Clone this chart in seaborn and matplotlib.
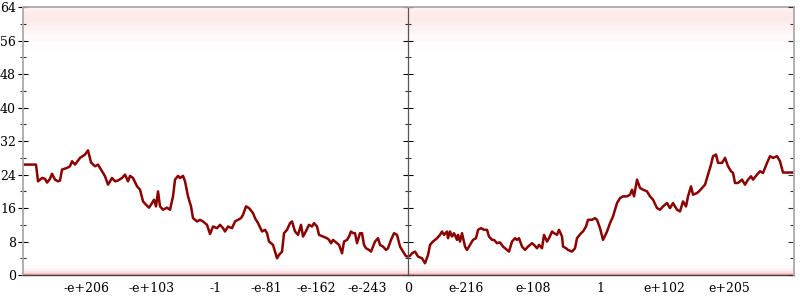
import matplotlib
matplotlib.use("Agg")
import matplotlib.pyplot as plt
import seaborn as sns
import pandas as pd

# ordinal index of the sampled input (float ordering, zero at 408.3) and bits of error
pos = [23, 36, 38, 40, 42, 45, 47, 50, 52, 55,
       58, 60, 62, 67, 70, 72, 75, 80, 85, 88,
       91, 95, 98, 102, 105, 108, 112, 115, 118, 122,
       125, 128, 130, 133, 137, 140, 143, 146, 149, 152,
       154, 156, 158, 160, 163, 167, 170, 173, 175, 178,
       180, 183, 185, 188, 191, 193, 197, 200, 203, 207,
       210, 213, 217, 220, 223, 225, 228, 232, 235, 238,
       241, 243, 246, 249, 253, 255, 258, 262, 265, 267,
       269, 273, 275, 277, 279, 282, 284, 287, 290, 292,
       295, 298, 301, 303, 306, 309, 312, 314, 317, 319,
       323, 327, 329, 331, 333, 337, 339, 342, 344, 347,
       349, 351, 353, 355, 357, 360, 362, 364, 366, 369,
       371, 375, 378, 380, 383, 386, 388, 391, 394, 397,
       400, 403, 406, 408, 410, 412, 415, 418, 422, 425,
       428, 430, 433, 437, 440, 442, 444, 447, 448, 450,
       452, 454, 457, 458, 460, 462, 465, 467, 470, 473,
       476, 478, 481, 484, 487, 489, 492, 494, 497, 500,
       503, 507, 509, 512, 515, 517, 519, 522, 525, 528,
       532, 534, 537, 539, 542, 544, 547, 549, 552, 554,
       557, 559, 562, 563, 566, 568, 572, 575, 577, 581,
       583, 586, 588, 592, 595, 597, 600, 603, 607, 610,
       613, 617, 620, 623, 627, 630, 632, 634, 637, 640,
       643, 647, 650, 653, 657, 660, 663, 667, 670, 673,
       677, 680, 683, 686, 688, 691, 693, 697, 699, 702,
       705, 708, 711, 713, 716, 718, 722, 725, 728, 731,
       733, 735, 738, 742, 745, 748, 751, 753, 757, 760,
       763, 767, 770, 773, 777, 780, 783, 794.3]
bits = [26.4, 26.4, 22.4, 22.8, 23.2, 23.0, 22.1, 23.0, 24.2, 22.8,
        22.4, 22.6, 25.2, 25.6, 26.0, 27.2, 26.4, 28.0, 28.8, 29.8,
        26.9, 26.0, 26.4, 24.8, 23.6, 21.6, 23.2, 22.4, 22.6, 23.2,
        24.0, 22.4, 23.7, 23.2, 21.2, 20.4, 17.6, 16.8, 16.1, 17.2,
        18.0, 16.4, 20.0, 16.4, 15.6, 16.1, 15.6, 18.8, 22.8, 23.7,
        23.2, 23.7, 22.4, 18.8, 16.4, 13.6, 12.8, 13.2, 12.8, 12.0,
        9.8, 11.6, 11.2, 12.0, 11.2, 10.4, 11.6, 11.2, 12.8, 13.2,
        13.6, 14.4, 16.4, 16.0, 14.8, 13.6, 12.4, 10.4, 10.8, 10.0,
        8.0, 7.2, 5.6, 4.0, 4.8, 5.6, 10.0, 10.8, 12.4, 12.8,
        10.4, 9.6, 12.0, 9.2, 10.5, 12.0, 11.6, 12.4, 11.6, 9.6,
        9.2, 8.8, 8.4, 7.6, 8.4, 7.6, 7.2, 5.2, 8.0, 8.4,
        9.2, 10.4, 10.0, 10.0, 7.6, 10.0, 10.0, 7.2, 6.4, 6.0,
        5.6, 8.0, 8.8, 7.2, 6.8, 6.0, 6.4, 8.4, 10.0, 9.6,
        6.8, 5.6, 4.5, 4.4, 4.6, 5.2, 5.6, 4.4, 4.0, 2.8,
        4.8, 7.2, 8.0, 8.8, 9.6, 10.4, 9.6, 10.4, 8.8, 10.4,
        9.2, 10.0, 8.4, 9.6, 8.0, 10.0, 6.8, 6.0, 7.2, 8.4,
        8.8, 10.8, 11.2, 10.8, 10.8, 9.2, 8.4, 8.4, 7.6, 7.8,
        6.8, 6.0, 5.6, 8.0, 8.8, 8.4, 8.8, 6.8, 6.0, 6.8,
        7.6, 7.2, 6.4, 7.2, 6.4, 9.6, 8.0, 8.8, 10.4, 10.0,
        9.6, 10.8, 9.2, 6.8, 6.4, 6.0, 5.6, 6.4, 8.8, 10.0,
        10.4, 11.6, 13.2, 13.2, 13.6, 13.2, 11.2, 8.4, 10.4, 12.4,
        14.0, 17.2, 18.4, 18.8, 18.8, 19.2, 20.4, 18.8, 22.8, 20.8,
        20.4, 20.0, 18.8, 18.0, 16.0, 15.6, 16.4, 17.2, 16.0, 17.2,
        15.6, 15.2, 17.6, 16.4, 18.8, 21.2, 19.2, 19.6, 20.0, 20.8,
        21.6, 24.0, 26.4, 28.4, 28.8, 26.8, 26.8, 28.0, 26.0, 24.8,
        24.4, 22.0, 22.0, 22.8, 21.6, 22.8, 23.6, 22.8, 24.0, 24.8,
        24.4, 26.8, 28.4, 28.0, 28.4, 27.2, 24.5, 24.5]

xlim_ord = [22.7, 794.3]
zero_ord = 408.3
xtick_pos = [86.7, 151.7, 215.7, 266.7, 316.7, 367.3, 408.3, 466.0, 533.3, 600.7, 664.3, 729.0]
xtick_labels = ["-e+206", "-e+103", "-1", "-e-81", "-e-162", "-e-243",
                "0", "e-216", "e-108", "1", "e+102", "e+205"]
ytick_major = [0, 8, 16, 24, 32, 40, 48, 56, 64]
ytick_minor = [4, 12, 20, 28, 36, 44, 52, 60]

# faint bands where the sampled points cluster (bits: low, high, opacity)
top_band_lo = [53.0, 56.0, 57.5, 58.5, 59.5, 60.5]
top_band_hi = [64.0, 64.0, 64.0, 63.8, 63.5, 62.8]
top_band_alpha = [0.008, 0.012, 0.015, 0.015, 0.015, 0.015]
bot_band_lo = [0.0, 0.0, 0.0, 0.0, 0.0]
bot_band_hi = [2.4, 1.5, 0.9, 0.45, 0.25]
bot_band_alpha = [0.02, 0.04, 0.07, 0.15, 0.2]

df = pd.DataFrame({"pos": pos, "bits": bits})

sns.set_theme(style="white")
plt.rcParams["font.family"] = ["DejaVu Serif", "DejaVu Sans"]

fig = plt.figure(figsize=(8, 3), dpi=100)
ax = fig.add_axes([0.0284, 0.0833, 0.9645, 0.8924])

for lo, hi, a in zip(top_band_lo, top_band_hi, top_band_alpha):
    ax.axhspan(lo, hi, color="#ff1a1a", alpha=a, lw=0)
for lo, hi, a in zip(bot_band_lo, bot_band_hi, bot_band_alpha):
    ax.axhspan(lo, hi, color="#ff1a1a", alpha=a, lw=0)

sns.lineplot(data=df, x="pos", y="bits", color="#8b0000", lw=1.8,
             estimator=None, ax=ax)

# outer right border (twin axes) - created before styling the main y axis
ax2 = ax.twinx()
ax2.set_ylim(0, 64)
ax2.set_yticks(ytick_major)
ax2.set_yticks(ytick_minor, minor=True)
for s in ["left", "top", "bottom"]:
    ax2.spines[s].set_visible(False)
ax2.spines["right"].set_color("#aaaaaa")
ax2.spines["right"].set_linewidth(1.3)
ax2.tick_params(axis="y", which="major", direction="in", length=4.5, width=0.8,
                colors="#333333", labelright=False)
ax2.tick_params(axis="y", which="minor", direction="in", length=3, width=0.8,
                colors="#333333")

ax.set_xlim(*xlim_ord)
ax.set_ylim(0, 64)
ax.set_xlabel("")
ax.set_ylabel("")
ax.set_xticks(xtick_pos, xtick_labels)
ax.set_yticks(ytick_major)
ax.set_yticks(ytick_minor, minor=True)

ax.yaxis.set_ticks_position("both")
ax.tick_params(axis="y", which="major", direction="inout", length=7.5, width=0.8,
               colors="black", pad=1, labelsize=9, left=True, right=True,
               labelleft=True, labelright=False)
ax.tick_params(axis="y", which="minor", direction="inout", length=3.8, width=0.8,
               colors="#333333", right=True, left=True)
ax.tick_params(axis="x", which="major", direction="inout", length=6, width=0.8,
               colors="black", pad=2, labelsize=9)

ax.spines["right"].set_position(("data", zero_ord))
ax.spines["right"].set_color("#555555")
ax.spines["right"].set_linewidth(0.9)
ax.spines["left"].set_color("#aaaaaa")
ax.spines["left"].set_linewidth(1.3)
ax.spines["top"].set_color("#aaaaaa")
ax.spines["top"].set_linewidth(1.3)
ax.spines["bottom"].set_color("#444444")
ax.spines["bottom"].set_linewidth(1.0)

fig.savefig("out.png", dpi=100)
